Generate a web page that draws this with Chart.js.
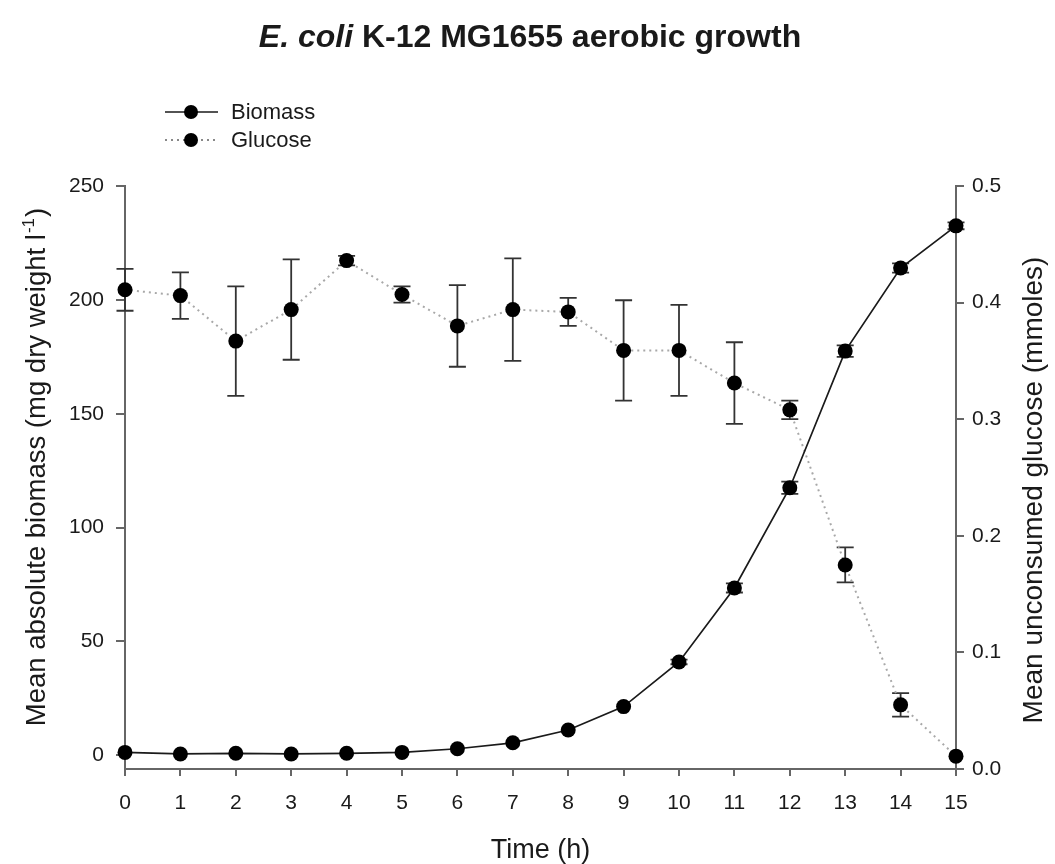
<!DOCTYPE html>
<html>
<head>
<meta charset="utf-8">
<title>E. coli K-12 MG1655 aerobic growth</title>
<script src="https://cdn.jsdelivr.net/npm/chart.js@4.4.1/dist/chart.umd.min.js"></script>
<style>
  html, body { margin: 0; padding: 0; background: #fff; }
  #growth { display: block; }
</style>
</head>
<body>
<canvas id="growth" width="1055" height="864"></canvas>
<script>
/* ------------------ data ------------------ */
const hours        = [0, 1, 2, 3, 4, 5, 6, 7, 8, 9, 10, 11, 12, 13, 14, 15];
// mg dry weight per litre
const biomass      = [1.3, 0.6, 0.9, 0.6, 0.9, 1.3, 2.9, 5.5, 11.1, 21.4, 41.0, 73.5, 117.5, 177.5, 214.0, 232.5];
const biomassErr   = [0, 0, 0, 0, 0, 0, 0, 0, 0, 0, 1.0, 2.0, 2.7, 2.5, 2.0, 1.5];
// mmoles of glucose left in the medium
const glucose      = [0.411, 0.406, 0.367, 0.394, 0.436, 0.407, 0.380, 0.394, 0.392, 0.359, 0.359, 0.331, 0.308, 0.175, 0.055, 0.011];
const glucoseErr   = [0.018, 0.020, 0.047, 0.043, 0.004, 0.007, 0.035, 0.044, 0.012, 0.043, 0.039, 0.035, 0.008, 0.015, 0.010, 0];

const timeTicks    = [0, 1, 2, 3, 4, 5, 6, 7, 8, 9, 10, 11, 12, 13, 14, 15];
const biomassTicks = [0, 50, 100, 150, 200, 250];
const glucoseTicks = [0, 0.1, 0.2, 0.3, 0.4, 0.5];

/* ------------------ style ------------------ */
const FONT      = "'Liberation Sans', Arial, Helvetica, sans-serif";
const AXIS_GREY = '#666';
const TEXT      = '#1a1a1a';

const points = (ys) => hours.map((h, i) => ({ x: h, y: ys[i] }));

/* ------------------ plugins ------------------ */
// vertical error bars with caps, drawn under the markers
const errorBars = {
  id: 'errorBars',
  beforeDatasetsDraw(chart) {
    const ctx = chart.ctx;
    chart.data.datasets.forEach((ds) => {
      if (!ds.errors) return;
      const xs = chart.scales.x, ys = chart.scales[ds.yAxisID];
      ctx.save();
      ctx.strokeStyle = '#333';
      ctx.lineWidth = 1.8;
      ds.data.forEach((p, k) => {
        const e = ds.errors[k];
        if (!e) return;
        const x  = xs.getPixelForValue(p.x);
        const lo = ys.getPixelForValue(p.y - e);
        const hi = ys.getPixelForValue(p.y + e);
        ctx.beginPath();
        ctx.moveTo(x, lo); ctx.lineTo(x, hi);
        ctx.moveTo(x - 8.5, lo); ctx.lineTo(x + 8.5, lo);
        ctx.moveTo(x - 8.5, hi); ctx.lineTo(x + 8.5, hi);
        ctx.stroke();
      });
      ctx.restore();
    });
  }
};

// little legend in the top-left corner: line sample + dot + label
const legendBox = {
  id: 'legendBox',
  afterDraw(chart) {
    const ctx = chart.ctx;
    chart.data.datasets.forEach((ds, i) => {
      const y = 112 + i * 28;
      ctx.save();
      ctx.strokeStyle = ds.legendLine;
      ctx.lineWidth = ds.borderWidth;
      ctx.setLineDash(ds.borderDash || []);
      ctx.beginPath();
      ctx.moveTo(165, y); ctx.lineTo(218, y);
      ctx.stroke();
      ctx.setLineDash([]);
      ctx.fillStyle = ds.pointBackgroundColor;
      ctx.beginPath();
      ctx.arc(191, y, 7, 0, Math.PI * 2);
      ctx.fill();
      ctx.fillStyle = TEXT;
      ctx.font = `22px ${FONT}`;
      ctx.textBaseline = 'middle';
      ctx.fillText(ds.label, 231, y + 1);
      ctx.restore();
    });
  }
};

// chart title and axis titles (mixed italic / superscript, so drawn by hand)
const titles = {
  id: 'titles',
  afterDraw(chart) {
    const ctx = chart.ctx;
    const { left, right } = chart.chartArea;
    ctx.save();
    ctx.fillStyle = TEXT;
    ctx.textBaseline = 'alphabetic';

    // main title
    const sp = 'E. coli', rest = ' K-12 MG1655 aerobic growth';
    ctx.font = `italic bold 32px ${FONT}`;
    const wa = ctx.measureText(sp).width;
    ctx.font = `bold 32px ${FONT}`;
    const wb = ctx.measureText(rest).width;
    const tx = 530 - (wa + wb) / 2;
    ctx.font = `italic bold 32px ${FONT}`;
    ctx.fillText(sp, tx, 47);
    ctx.font = `bold 32px ${FONT}`;
    ctx.fillText(rest, tx + wa, 47);

    // x axis title
    ctx.font = `27px ${FONT}`;
    ctx.textAlign = 'center';
    ctx.fillText('Time (h)', (left + right) / 2, 858);
    ctx.textAlign = 'left';

    // left axis title with l^-1
    const main = 'Mean absolute biomass (mg dry weight l', sup = '-1', close = ')';
    ctx.font = `27.5px ${FONT}`;
    const w1 = ctx.measureText(main).width, w3 = ctx.measureText(close).width;
    ctx.font = `17px ${FONT}`;
    const w2 = ctx.measureText(sup).width;
    ctx.save();
    ctx.translate(45, 468);
    ctx.rotate(-Math.PI / 2);
    const x0 = -(w1 + w2 + w3) / 2;
    ctx.font = `27.5px ${FONT}`;
    ctx.fillText(main, x0, 0);
    ctx.font = `17px ${FONT}`;
    ctx.fillText(sup, x0 + w1 + 1, -11);
    ctx.font = `27.5px ${FONT}`;
    ctx.fillText(close, x0 + w1 + w2 + 2, 0);
    ctx.restore();

    // right axis title, reads bottom to top like the left one
    ctx.save();
    ctx.translate(1042, 490);
    ctx.rotate(-Math.PI / 2);
    ctx.font = `28px ${FONT}`;
    ctx.textAlign = 'center';
    ctx.fillText('Mean unconsumed glucose (mmoles)', 0, 0);
    ctx.restore();

    ctx.restore();
  }
};

/* ------------------ chart ------------------ */
const tickFont = { family: FONT, size: 21 };
const axisGrid = (len) => ({ drawOnChartArea: false, tickLength: len, color: AXIS_GREY, lineWidth: 2 });
const axisBorder = { color: AXIS_GREY, width: 2 };

new Chart(document.getElementById('growth'), {
  type: 'line',
  data: {
    datasets: [
      {
        label: 'Biomass',
        data: points(biomass),
        errors: biomassErr,
        yAxisID: 'y',
        borderColor: '#1a1a1a',
        legendLine: '#1a1a1a',
        borderWidth: 1.7,
        pointRadius: 7.5,
        pointBackgroundColor: '#000',
        pointBorderWidth: 0,
        tension: 0,
        clip: false
      },
      {
        label: 'Glucose',
        data: points(glucose),
        errors: glucoseErr,
        yAxisID: 'y1',
        borderColor: '#a8a8a8',
        legendLine: '#888',
        borderWidth: 2,
        borderDash: [2, 4],
        pointRadius: 7.5,
        pointBackgroundColor: '#000',
        pointBorderWidth: 0,
        tension: 0,
        clip: false
      }
    ]
  },
  options: {
    responsive: false,
    animation: false,
    layout: { padding: { top: 186, left: 0, right: 0, bottom: 0 } },
    plugins: { legend: { display: false }, tooltip: { enabled: false } },
    scales: {
      x: {
        type: 'linear', min: 0, max: 15,
        afterBuildTicks: s => { s.ticks = timeTicks.map(v => ({ value: v })); },
        afterFit: s => { s.height = 95; },
        ticks: { font: tickFont, color: TEXT, padding: 15, maxRotation: 0, autoSkip: false },
        grid: axisGrid(7),
        border: axisBorder
      },
      y: {
        position: 'left', min: -6, max: 250,
        afterBuildTicks: s => { s.ticks = biomassTicks.map(v => ({ value: v })); },
        afterFit: s => { s.width = 125; },
        ticks: { font: tickFont, color: TEXT, padding: 12 },
        grid: axisGrid(9),
        border: axisBorder
      },
      y1: {
        position: 'right', min: 0, max: 0.5,
        afterBuildTicks: s => { s.ticks = glucoseTicks.map(v => ({ value: v })); },
        afterFit: s => { s.width = 99; },
        ticks: { font: tickFont, color: TEXT, padding: 8, callback: v => v.toFixed(1) },
        grid: axisGrid(8),
        border: axisBorder
      }
    }
  },
  plugins: [errorBars, legendBox, titles]
});
</script>
</body>
</html>
